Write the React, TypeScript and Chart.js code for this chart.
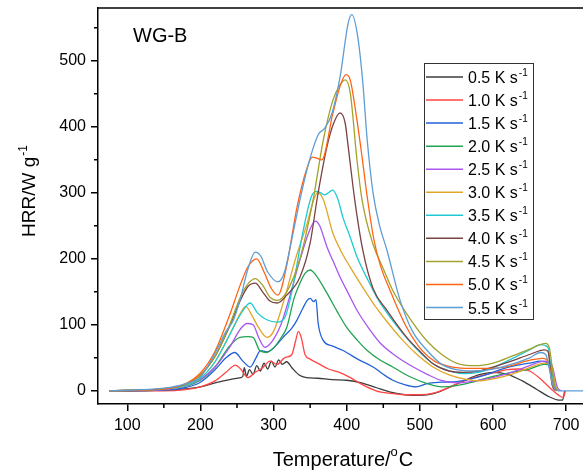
import { useEffect, useRef } from "react";
import { Chart, registerables } from "chart.js";

Chart.register(...registerables);

const FONT = "'Liberation Sans', Arial, sans-serif";

const SERIES_LABELS = ["0.5", "1.0", "1.5", "2.0", "2.5", "3.0", "3.5", "4.0", "4.5", "5.0", "5.5"];
const SERIES_COLORS = [
  "#3c3c3c", "#ff4545", "#2262d8", "#22a352", "#a957ef", "#e0a62a",
  "#1fcbd0", "#7a4242", "#a2a22c", "#ff6414", "#5e9dd6",
];

const X_TICKS = [100, 200, 300, 400, 500, 600, 700];
const X_MINOR = [150, 250, 350, 450, 550, 650];
const Y_TICKS = [0, 100, 200, 300, 400, 500];
const Y_MINOR = [50, 150, 250, 350, 450, 550];

type P = [number, number];

const RATE_0_5: P[] = [
  [75, 0], [100, 0], [150, 1], [180, 3], [200, 6], [220, 12], [240, 17], [255, 20], [258, 22], [260, 35],
  [263, 22], [267, 32], [272, 25], [277, 38], [282, 30], [287, 42], [292, 33], [297, 45], [302, 36],
  [307, 47], [312, 40], [318, 44], [325, 35], [335, 24], [345, 20], [360, 19], [380, 17], [400, 16],
  [420, 12], [440, 5], [460, -2], [480, -6], [500, -7], [520, -4], [540, 5], [560, 15], [580, 24],
  [600, 28], [620, 25], [640, 15], [660, 2], [675, -8], [690, -14], [695, -14], [698, 0],
];
const RATE_1_0: P[] = [
  [75, 0], [150, 0], [180, 2], [200, 6], [220, 15], [235, 28], [248, 39], [255, 33], [265, 20], [275, 28],
  [285, 35], [295, 45], [305, 40], [315, 50], [325, 55], [330, 75], [334, 90], [338, 80], [343, 55],
  [350, 48], [360, 42], [375, 33], [390, 28], [405, 20], [420, 10], [440, 0], [460, -4], [480, -6],
  [500, -6], [520, -3], [540, 5], [560, 15], [580, 22], [600, 27], [620, 32], [635, 33], [650, 30],
  [665, 18], [680, 2], [690, -7], [696, -10], [699, 0],
];
const RATE_1_5: P[] = [
  [75, 0], [150, 1], [180, 5], [200, 13], [220, 32], [235, 50], [247, 58], [258, 45], [268, 36], [276, 50],
  [282, 61], [291, 59], [300, 65], [313, 81], [325, 95], [332, 107], [340, 125], [346, 137], [350, 140],
  [355, 135], [358, 138], [361, 102], [368, 76], [380, 68], [395, 61], [415, 48], [436, 36], [450, 25],
  [463, 16], [480, 9], [495, 6], [510, 11], [530, 13], [550, 14], [570, 18], [590, 24], [610, 32],
  [630, 38], [650, 42], [665, 45], [675, 42], [683, 5], [688, 0],
];
const RATE_2_0: P[] = [
  [75, 0], [150, 2], [180, 7], [200, 16], [220, 36], [240, 68], [254, 81], [265, 82], [272, 81], [281, 61],
  [290, 58], [300, 65], [310, 80], [318, 96], [328, 140], [336, 163], [343, 178], [350, 183], [358, 175],
  [373, 148], [387, 120], [400, 96], [415, 76], [428, 61], [445, 47], [463, 36], [485, 22], [510, 11],
  [530, 6], [550, 8], [575, 14], [600, 22], [625, 28], [650, 33], [670, 40], [678, 38], [685, 5], [690, 0],
];
const RATE_2_5: P[] = [
  [75, 0], [150, 2], [180, 7], [200, 17], [220, 36], [240, 66], [255, 94], [264, 102], [272, 100], [280, 80],
  [288, 66], [298, 75], [310, 100], [320, 135], [336, 198], [350, 245], [357, 257], [363, 250], [373, 218],
  [382, 195], [391, 172], [402, 148], [414, 122], [430, 95], [446, 72], [468, 52], [491, 36], [510, 25],
  [528, 16], [550, 12], [575, 15], [600, 20], [625, 28], [650, 38], [670, 45], [680, 40], [688, 5], [693, 0],
];
const RATE_3_0: P[] = [
  [75, 0], [150, 3], [180, 8], [200, 19], [220, 44], [240, 85], [255, 118], [262, 128], [270, 115],
  [280, 95], [291, 81], [300, 90], [315, 140], [330, 200], [346, 254], [355, 290], [360, 300], [368, 290],
  [381, 239], [393, 210], [405, 187], [420, 160], [436, 133], [455, 105], [473, 81], [495, 56], [518, 36],
  [540, 24], [560, 18], [580, 15], [600, 18], [625, 25], [650, 35], [670, 42], [680, 38], [686, 5], [691, 0],
];
const RATE_3_5: P[] = [
  [75, 0], [150, 3], [180, 8], [200, 19], [220, 44], [240, 85], [255, 116], [268, 133], [278, 118],
  [290, 108], [305, 104], [315, 110], [325, 150], [340, 240], [352, 295], [360, 302], [370, 297], [381, 304],
  [388, 290], [395, 262], [405, 232], [414, 203], [428, 170], [441, 142], [457, 115], [473, 92], [495, 64],
  [518, 41], [540, 30], [560, 26], [580, 28], [600, 35], [625, 48], [650, 62], [665, 70], [675, 66],
  [682, 10], [687, 0],
];
const RATE_4_0: P[] = [
  [75, 0], [150, 3], [180, 10], [200, 24], [220, 52], [240, 98], [255, 138], [265, 158], [275, 163],
  [285, 150], [295, 136], [305, 133], [318, 145], [336, 172], [350, 224], [360, 294], [373, 370], [382, 405],
  [391, 421], [398, 405], [402, 370], [411, 289], [422, 213], [436, 155], [455, 122], [482, 81], [500, 60],
  [518, 41], [540, 30], [560, 28], [580, 30], [600, 36], [625, 45], [650, 55], [670, 62], [675, 60],
  [681, 8], [686, 0],
];
const RATE_4_5: P[] = [
  [75, 0], [150, 3], [180, 10], [200, 24], [220, 52], [240, 100], [255, 143], [265, 162], [275, 170],
  [285, 160], [295, 142], [305, 137], [318, 150], [336, 200], [354, 289], [368, 380], [381, 440], [390, 462],
  [398, 471], [405, 450], [414, 350], [421, 289], [436, 222], [450, 185], [463, 152], [491, 102], [510, 75],
  [530, 55], [550, 42], [575, 38], [600, 42], [625, 52], [650, 63], [672, 72], [677, 65], [684, 10], [689, 0],
];
const RATE_5_0: P[] = [
  [75, 0], [150, 3], [180, 11], [200, 27], [220, 60], [240, 115], [255, 162], [265, 188], [277, 200],
  [287, 180], [297, 155], [306, 145], [318, 190], [332, 278], [345, 335], [353, 354], [360, 352], [366, 350],
  [381, 420], [392, 465], [399, 479], [405, 470], [414, 410], [421, 354], [428, 294], [437, 230], [446, 190],
  [460, 150], [480, 100], [500, 65], [520, 45], [545, 36], [570, 34], [600, 34], [625, 38], [645, 45],
  [668, 49], [675, 45], [682, 8], [687, 0],
];
const RATE_5_5: P[] = [
  [75, 0], [150, 4], [180, 11], [200, 21], [222, 61], [235, 90], [245, 107], [254, 137], [265, 185],
  [275, 210], [282, 205], [292, 180], [306, 165], [315, 180], [325, 230], [336, 289], [348, 345], [361, 388],
  [370, 398], [380, 421], [391, 476], [402, 557], [407, 570], [415, 537], [422, 467], [428, 380], [436, 300],
  [445, 250], [455, 213], [473, 137], [490, 90], [510, 61], [530, 40], [550, 32], [575, 30], [600, 33],
  [630, 42], [650, 50], [665, 58], [672, 55], [682, 8], [690, 0], [723, 0],
];

const SERIES = [
  RATE_0_5, RATE_1_0, RATE_1_5, RATE_2_0, RATE_2_5, RATE_3_0,
  RATE_3_5, RATE_4_0, RATE_4_5, RATE_5_0, RATE_5_5,
];

function drawSup(ctx: CanvasRenderingContext2D, x: number, y: number, main: string, sup: string, size: number, supSize: number, rise: number) {
  ctx.font = `${size}px ${FONT}`;
  ctx.fillText(main, x, y);
  const w = ctx.measureText(main).width;
  ctx.font = `${supSize}px ${FONT}`;
  ctx.fillText(sup, x + w + 1, y - rise);
  return w + 1 + ctx.measureText(sup).width;
}

const decor = {
  id: "decor",
  afterDraw(chart: any) {
    const { ctx, chartArea: ca, scales } = chart;
    const xs = scales.x;
    const ys = scales.y;
    ctx.save();
    ctx.strokeStyle = "#000";
    ctx.lineWidth = 1.5;
    ctx.beginPath();
    ctx.moveTo(ca.left, ca.top);
    ctx.lineTo(chart.width, ca.top);
    ctx.stroke();
    ctx.beginPath();
    for (const v of X_MINOR) {
      const px = xs.getPixelForValue(v);
      ctx.moveTo(px, ca.bottom);
      ctx.lineTo(px, ca.bottom + 4);
    }
    for (const v of Y_MINOR) {
      const py = ys.getPixelForValue(v);
      ctx.moveTo(ca.left, py);
      ctx.lineTo(ca.left - 4, py);
    }
    ctx.stroke();

    ctx.fillStyle = "#000";
    ctx.textBaseline = "alphabetic";
    ctx.textAlign = "left";
    ctx.font = `20px ${FONT}`;
    ctx.fillText("WG-B", 133, 42);

    ctx.font = `20px ${FONT}`;
    const a = ctx.measureText("Temperature/").width;
    ctx.font = `13px ${FONT}`;
    const b = ctx.measureText("o").width;
    ctx.font = `20px ${FONT}`;
    const c = ctx.measureText("C").width;
    const total = a + b + c + 1;
    const sx = 343 - total / 2;
    ctx.fillText("Temperature/", sx, 466);
    ctx.font = `13px ${FONT}`;
    ctx.fillText("o", sx + a, 456);
    ctx.font = `20px ${FONT}`;
    ctx.fillText("C", sx + a + b + 1, 466);

    ctx.save();
    ctx.translate(35, 191);
    ctx.rotate(-Math.PI / 2);
    ctx.font = `19px ${FONT}`;
    const m = ctx.measureText("HRR/W g").width;
    ctx.font = `12px ${FONT}`;
    const s = ctx.measureText("-1").width;
    const yw = m + 1 + s;
    drawSup(ctx, -yw / 2, 0, "HRR/W g", "-1", 19, 12, 8);
    ctx.restore();

    ctx.lineWidth = 1;
    ctx.strokeStyle = "#333";
    ctx.fillStyle = "#fff";
    ctx.fillRect(424.5, 63.5, 109, 256);
    ctx.strokeRect(424.5, 63.5, 109, 256);
    SERIES_LABELS.forEach((lab, i) => {
      const y = 77 + i * 23.05;
      ctx.strokeStyle = SERIES_COLORS[i];
      ctx.lineWidth = 1.5;
      ctx.beginPath();
      ctx.moveTo(426, y);
      ctx.lineTo(463, y);
      ctx.stroke();
      ctx.fillStyle = "#000";
      drawSup(ctx, 468, y + 6, `${lab} K s`, "-1", 16, 10, 7);
    });
    ctx.restore();
  },
};

export default function App() {
  const ref = useRef<HTMLCanvasElement | null>(null);
  useEffect(() => {
    if (!ref.current) return;
    const chart = new Chart(ref.current, {
      type: "line",
      data: {
        datasets: SERIES.map((pts, i) => ({
          label: `${SERIES_LABELS[i]} K s-1`,
          data: pts.map(([x, y]) => ({ x, y })),
          borderColor: SERIES_COLORS[i],
          borderWidth: 1.3,
          pointRadius: 0,
          cubicInterpolationMode: "monotone" as const,
          fill: false,
          order: 10 - i,
        })),
      },
      options: {
        responsive: false,
        animation: false,
        events: [],
        layout: { padding: { top: 8, left: 0, right: 0, bottom: 0 } },
        plugins: { legend: { display: false }, tooltip: { enabled: false }, title: { display: false } },
        scales: {
          x: {
            type: "linear",
            min: 60,
            max: 723,
            afterBuildTicks: (axis: any) => {
              axis.ticks = X_TICKS.map((v) => ({ value: v }));
            },
            afterFit: (axis: any) => {
              axis.height = 71;
              axis.paddingLeft = 0;
              axis.paddingRight = 0;
            },
            ticks: {
              autoSkip: false,
              maxRotation: 0,
              padding: 5,
              color: "#000",
              font: { family: FONT, size: 16 },
              callback: (v: any) => String(v),
            },
            grid: { display: true, drawOnChartArea: false, drawTicks: true, tickLength: 7, color: "#000", lineWidth: 1.5 },
            border: { display: true, color: "#000", width: 1.5 },
          },
          y: {
            type: "linear",
            min: -20,
            max: 580,
            afterBuildTicks: (axis: any) => {
              axis.ticks = Y_TICKS.map((v) => ({ value: v }));
            },
            afterFit: (axis: any) => {
              axis.width = 98;
              axis.paddingTop = 0;
              axis.paddingBottom = 0;
            },
            ticks: {
              autoSkip: false,
              padding: 5,
              color: "#000",
              font: { family: FONT, size: 16 },
              callback: (v: any) => String(v),
            },
            grid: { display: true, drawOnChartArea: false, drawTicks: true, tickLength: 7, color: "#000", lineWidth: 1.5 },
            border: { display: true, color: "#000", width: 1.5 },
          },
        },
      },
      plugins: [decor],
    });
    return () => chart.destroy();
  }, []);
  return (
    <div style={{ position: "fixed", left: 0, top: 0, width: 583, height: 475, background: "#fff" }}>
      <canvas ref={ref} width={583} height={475} style={{ display: "block" }} />
    </div>
  );
}
